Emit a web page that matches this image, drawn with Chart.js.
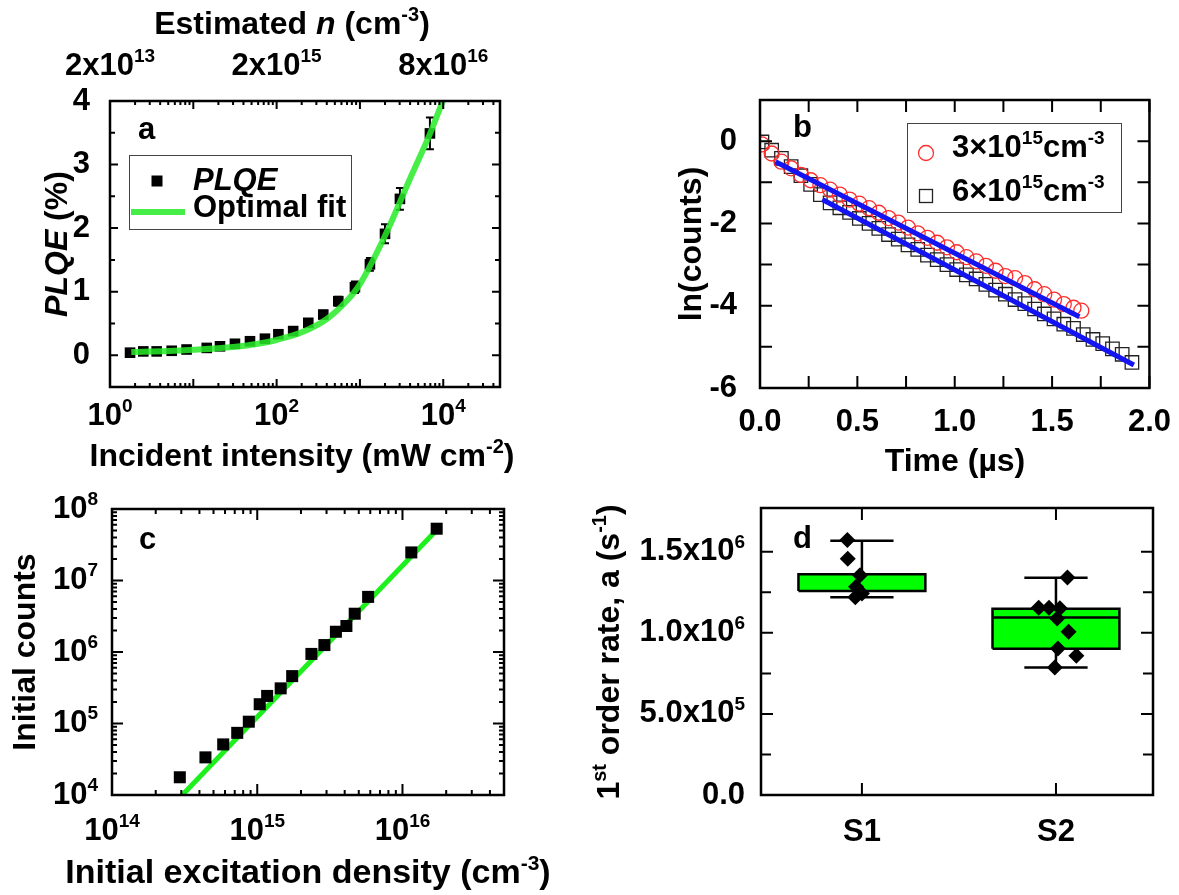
<!DOCTYPE html>
<html>
<head>
<meta charset="utf-8">
<script src="https://cdn.jsdelivr.net/npm/chart.js@4.4.0/dist/chart.umd.min.js"></script>
<style>
  body { margin: 0; background: #fff; width: 1179px; height: 895px; position: relative; overflow: hidden; }
  canvas { position: absolute; }
</style>
</head>
<body>
<canvas id="pa" width="580" height="480" style="left:0;top:0"></canvas>
<canvas id="pb" width="599" height="480" style="left:580px;top:0"></canvas>
<canvas id="pc" width="580" height="415" style="left:0;top:480px"></canvas>
<canvas id="pd" width="599" height="415" style="left:580px;top:480px"></canvas>
<script>
// ---- panel a : PLQE vs incident intensity ----
const aIntensity = [1.74, 2.51, 3.63, 5.5, 8.3, 14.5, 20.9, 31.6, 47.9, 72.4, 105, 158, 240, 363, 550, 871, 1318, 2000, 3020, 6920];
const aPlqe      = [0.04, 0.06, 0.06, 0.07, 0.09, 0.115, 0.14, 0.18, 0.22, 0.26, 0.33, 0.38, 0.51, 0.64, 0.85, 1.07, 1.43, 1.91, 2.46, 3.49];
const aPlqeErr   = [0.03, 0.03, 0.03, 0.03, 0.03, 0.03, 0.03, 0.04, 0.04, 0.04, 0.05, 0.05, 0.05, 0.06, 0.07, 0.09, 0.1, 0.15, 0.17, 0.25];
const aFitX = [1.8, 5, 10, 30, 60, 100, 200, 400, 700, 1000, 2000, 4000, 7000, 10000];
const aFitY = [0.05, 0.065, 0.085, 0.13, 0.18, 0.24, 0.36, 0.57, 0.86, 1.12, 1.88, 2.78, 3.5, 4.02];
const aXTicks = [1, 100, 10000];
const aXTickExp = ['0', '2', '4'];
const aTopTickLabels = [['2x10', '13'], ['2x10', '15'], ['8x10', '16']];
const aYTicks = [0, 1, 2, 3, 4];

// ---- panel b : ln(counts) decays ----
const bTime3 = [0.01, 0.06, 0.11, 0.16, 0.21, 0.26, 0.31, 0.36, 0.41, 0.46, 0.51, 0.56, 0.61, 0.66, 0.71, 0.76, 0.81, 0.86, 0.91, 0.96, 1.01, 1.06, 1.11, 1.16, 1.21, 1.26, 1.31, 1.36, 1.41, 1.46, 1.51, 1.56, 1.61, 1.65];
const bLn3   = [-0.08, -0.30, -0.50, -0.66, -0.82, -0.95, -1.07, -1.18, -1.30, -1.42, -1.52, -1.63, -1.74, -1.87, -1.98, -2.10, -2.24, -2.35, -2.47, -2.58, -2.70, -2.82, -2.92, -3.03, -3.15, -3.28, -3.33, -3.45, -3.60, -3.72, -3.85, -3.96, -4.05, -4.12];
const bTime6 = [0.01, 0.06, 0.11, 0.16, 0.21, 0.26, 0.31, 0.36, 0.41, 0.46, 0.51, 0.56, 0.61, 0.66, 0.71, 0.76, 0.81, 0.86, 0.91, 0.96, 1.01, 1.06, 1.11, 1.16, 1.21, 1.26, 1.31, 1.36, 1.41, 1.46, 1.51, 1.56, 1.61, 1.66, 1.71, 1.76, 1.81, 1.86, 1.91];
const bLn6   = [-0.02, -0.22, -0.42, -0.62, -0.84, -1.05, -1.30, -1.50, -1.62, -1.73, -1.88, -2.00, -2.12, -2.27, -2.38, -2.52, -2.63, -2.77, -2.88, -3.00, -3.12, -3.25, -3.35, -3.48, -3.62, -3.72, -3.85, -3.95, -4.08, -4.20, -4.32, -4.45, -4.55, -4.70, -4.82, -4.92, -5.05, -5.18, -5.38];
const bFit3T = [0.08, 1.64];
const bFit3Y = [-0.50, -4.27];
const bFit6T = [0.32, 1.92];
const bFit6Y = [-1.42, -5.44];
const bXTicks = [0, 0.5, 1, 1.5, 2];
const bYTicks = [0, -2, -4, -6];

// ---- panel c : initial counts vs excitation density ----
const cDensity = [2.93e14, 4.4e14, 5.83e14, 7.28e14, 8.75e14, 1.04e15, 1.17e15, 1.45e15, 1.74e15, 2.36e15, 2.9e15, 3.48e15, 4.11e15, 4.69e15, 5.8e15, 1.15e16, 1.72e16];
const cCounts  = [1.77e4, 3.36e4, 5.1e4, 7.4e4, 1.06e5, 1.86e5, 2.43e5, 3.1e5, 4.6e5, 9.4e5, 1.25e6, 1.92e6, 2.31e6, 3.43e6, 5.9e6, 2.47e7, 5.3e7];
const cFitX = [2.9e14, 1.8e16];
const cFitY = [9.0e3, 5.6e7];
const cXTicks = [1e14, 1e15, 1e16];
const cXTickExp = ['14', '15', '16'];
const cYTicks = [1e4, 1e5, 1e6, 1e7, 1e8];
const cYTickExp = ['4', '5', '6', '7', '8'];

// ---- panel d : first order rate box plots ----
const dCategories = ['S1', 'S2'];
const dQ1 = [1.258e6, 0.902e6];
const dMedian = [1.258e6, 1.095e6];
const dQ3 = [1.362e6, 1.149e6];
const dWhiskLow = [1.219e6, 0.787e6];
const dWhiskHigh = [1.568e6, 1.34e6];
const dS1X = [0.925, 0.927, 0.99, 0.97, 1.0, 0.966];
const dS1Y = [1.572e6, 1.457e6, 1.356e6, 1.284e6, 1.243e6, 1.219e6];
const dS2X = [2.059, 1.911, 1.964, 2.02, 2.006, 2.065, 2.01, 2.105, 1.994];
const dS2Y = [1.342e6, 1.155e6, 1.155e6, 1.151e6, 1.089e6, 1.007e6, 0.904e6, 0.859e6, 0.787e6];
const dYTicks = [0, 5e5, 1e6, 1.5e6];
const dYTickLabels = [['0.0', ''], ['5.0x10', '5'], ['1.0x10', '6'], ['1.5x10', '6']];

const FONT = '"Liberation Sans", Arial, Helvetica, sans-serif';
const FS = 31;
const tickFont = { family: FONT, size: FS, weight: 'bold' };
const GREEN = 'rgba(40,235,40,0.85)';
const BLUE = 'rgb(20,20,240)';

function fontStr(size, italic) {
  return (italic ? 'italic ' : '') + 'bold ' + size + 'px ' + FONT;
}

// segs: [[text, style]] ; style '' normal, 'i' italic, 's' superscript
function drawRich(ctx, segs, x, y, align, rot, size) {
  size = size || FS;
  ctx.save();
  ctx.translate(x, y);
  if (rot) ctx.rotate(rot);
  ctx.fillStyle = '#000';
  ctx.textBaseline = 'middle';
  ctx.textAlign = 'left';
  const parts = segs.map(([t, st]) => {
    const f = fontStr(st === 's' ? Math.round(size * 0.62) : size, st === 'i');
    ctx.font = f;
    return { t, f, w: ctx.measureText(t).width, dy: st === 's' ? -size * 0.3 : 0 };
  });
  const total = parts.reduce((s, p) => s + p.w, 0);
  let cx = align === 'center' ? -total / 2 : align === 'right' ? -total : 0;
  parts.forEach(p => { ctx.font = p.f; ctx.fillText(p.t, cx, p.dy); cx += p.w; });
  ctx.restore();
}

function logMajors(e0, e1) {
  const out = [];
  for (let e = e0; e <= e1; e++) out.push(Math.pow(10, e));
  return out;
}
function logMinors(e0, e1) {
  const out = [];
  for (let e = e0; e <= e1; e++) for (let m = 2; m <= 9; m++) out.push(m * Math.pow(10, e));
  return out;
}

// frame, inward ticks on all four sides, custom labels and titles
function decor(cfg) {
  return {
    id: 'decor',
    beforeDatasetsDraw(chart) { if (cfg.under) cfg.under(chart); },
    afterDraw(chart) {
      const { ctx, chartArea: a } = chart;
      ctx.save();
      ctx.strokeStyle = '#000';
      ctx.lineWidth = 2;
      cfg.ticks.forEach(t => {
        const s = chart.scales[t.axis];
        const horiz = s.isHorizontal();
        [[t.major, t.len[0]], [t.minor, t.len[1]]].forEach(([vals, len]) => {
          vals.forEach(v => {
            const p = s.getPixelForValue(v);
            ctx.beginPath();
            if (horiz) {
              if (p < a.left - 0.5 || p > a.right + 0.5) return;
              ctx.moveTo(p, a.bottom); ctx.lineTo(p, a.bottom - len);
              ctx.moveTo(p, a.top); ctx.lineTo(p, a.top + len);
            } else {
              if (p < a.top - 0.5 || p > a.bottom + 0.5) return;
              ctx.moveTo(a.left, p); ctx.lineTo(a.left + len, p);
              ctx.moveTo(a.right, p); ctx.lineTo(a.right - len, p);
            }
            ctx.stroke();
          });
        });
      });
      ctx.lineWidth = 2.5;
      ctx.strokeRect(a.left, a.top, a.right - a.left, a.bottom - a.top);
      ctx.restore();

      (cfg.labels || []).forEach(l => {
        const s = chart.scales[l.axis];
        l.vals.forEach((v, i) => {
          const p = s.getPixelForValue(v);
          if (l.side === 'bottom') drawRich(ctx, l.texts[i], p, a.bottom + l.off, 'center');
          else if (l.side === 'top') drawRich(ctx, l.texts[i], p, a.top - l.off, 'center');
          else drawRich(ctx, l.texts[i], a.left - l.off, p, 'right');
        });
      });
      (cfg.texts || []).forEach(t => drawRich(ctx, t.segs, t.x, t.y, t.align || 'center', t.rot, t.size));
      if (cfg.extra) cfg.extra(chart);
    }
  };
}

const baseOpts = {
  responsive: false,
  animation: false,
  events: [],
  plugins: { legend: { display: false }, tooltip: { enabled: false } }
};
const noAxisDeco = { grid: { display: false }, border: { display: false } };

// ================= panel a =================
new Chart(document.getElementById('pa'), {
  type: 'scatter',
  data: {
    datasets: [
      {
        type: 'line', label: 'Optimal fit',
        data: aFitX.map((x, i) => ({ x, y: aFitY[i] })),
        borderColor: GREEN, borderWidth: 6, pointRadius: 0,
        cubicInterpolationMode: 'monotone', order: 0
      },
      {
        label: 'PLQE',
        data: aIntensity.map((x, i) => ({ x, y: aPlqe[i] })),
        pointStyle: 'rect', pointRadius: 7.5,
        backgroundColor: '#000', borderColor: '#000', borderWidth: 0, order: 1
      }
    ]
  },
  options: {
    ...baseOpts,
    layout: { padding: { top: 101, right: 80, left: 0, bottom: 0 } },
    scales: {
      x: {
        type: 'logarithmic', min: 1, max: 48000, ...noAxisDeco,
        ticks: { display: false },
        afterFit: s => { s.height = 93; }
      },
      y: {
        min: -0.5, max: 4, ...noAxisDeco,
        afterBuildTicks: s => { s.ticks = aYTicks.map(v => ({ value: v })); },
        ticks: { font: tickFont, color: '#000', padding: 12, callback: v => String(v) },
        afterFit: s => { s.width = 110; }
      }
    }
  },
  plugins: [decor({
    ticks: [
      { axis: 'x', major: logMajors(0, 4), minor: logMinors(0, 4), len: [8, 4] },
      { axis: 'y', major: aYTicks, minor: [-0.5, 0.5, 1.5, 2.5, 3.5], len: [8, 5] }
    ],
    labels: [
      { axis: 'x', side: 'bottom', off: 29, vals: aXTicks, texts: aXTickExp.map(e => [['10', ''], [e, 's']]) },
      { axis: 'x', side: 'top', off: 35, vals: aXTicks, texts: aTopTickLabels.map(([b, e]) => [[b, ''], [e, 's']]) }
    ],
    texts: [
      { segs: [['Estimated ', ''], ['n', 'i'], [' (cm', ''], ['-3', 's'], [')', '']], x: 292, y: 25, size: 32 },
      { segs: [['Incident intensity (mW cm', ''], ['-2', 's'], [')', '']], x: 302, y: 457, size: 32 },
      { segs: [['PLQE', 'i'], [' (%)', '']], x: 58, y: 244, rot: -Math.PI / 2, size: 32 },
      { segs: [['a', '']], x: 138, y: 130, align: 'left' }
    ],
    under(chart) {
      const { ctx } = chart;
      const xs = chart.scales.x, ys = chart.scales.y;
      ctx.save();
      ctx.strokeStyle = '#000';
      ctx.lineWidth = 2;
      aIntensity.forEach((v, i) => {
        const px = xs.getPixelForValue(v);
        const y1 = ys.getPixelForValue(aPlqe[i] - aPlqeErr[i]);
        const y2 = ys.getPixelForValue(aPlqe[i] + aPlqeErr[i]);
        ctx.beginPath();
        ctx.moveTo(px, y1); ctx.lineTo(px, y2);
        ctx.moveTo(px - 4, y1); ctx.lineTo(px + 4, y1);
        ctx.moveTo(px - 4, y2); ctx.lineTo(px + 4, y2);
        ctx.stroke();
      });
      ctx.restore();
    },
    extra(chart) {
      const { ctx } = chart;
      ctx.save();
      ctx.strokeStyle = '#444';
      ctx.lineWidth = 1;
      ctx.strokeRect(129.5, 155.5, 222, 74);
      ctx.fillStyle = '#000';
      ctx.fillRect(151.5, 175.5, 11, 11);
      ctx.strokeStyle = GREEN;
      ctx.lineWidth = 6;
      ctx.beginPath(); ctx.moveTo(131, 212); ctx.lineTo(185, 212); ctx.stroke();
      ctx.restore();
      drawRich(ctx, [['PLQE', 'i']], 193, 181, 'left');
      drawRich(ctx, [['Optimal fit', '']], 193, 208, 'left');
    }
  })]
});

// ================= panel b =================
new Chart(document.getElementById('pb'), {
  type: 'scatter',
  data: {
    datasets: [
      {
        type: 'line', data: bFit3T.map((x, i) => ({ x, y: bFit3Y[i] })),
        borderColor: BLUE, borderWidth: 5, pointRadius: 0, order: 0
      },
      {
        type: 'line', data: bFit6T.map((x, i) => ({ x, y: bFit6Y[i] })),
        borderColor: BLUE, borderWidth: 5, pointRadius: 0, order: 0
      },
      {
        label: '3e15', data: bTime3.map((x, i) => ({ x, y: bLn3[i] })),
        pointStyle: 'circle', pointRadius: 7.5,
        borderColor: 'rgb(255,45,45)', borderWidth: 1.3, backgroundColor: 'rgba(0,0,0,0)', order: 1
      },
      {
        label: '6e15', data: bTime6.map((x, i) => ({ x, y: bLn6[i] })),
        pointStyle: 'rect', pointRadius: 9.5,
        borderColor: '#222', borderWidth: 1.3, backgroundColor: 'rgba(0,0,0,0)', order: 2
      }
    ]
  },
  options: {
    ...baseOpts,
    layout: { padding: { top: 100, right: 29, left: 0, bottom: 0 } },
    scales: {
      x: {
        min: 0, max: 2, ...noAxisDeco,
        afterBuildTicks: s => { s.ticks = bXTicks.map(v => ({ value: v })); },
        ticks: { font: tickFont, color: '#000', padding: 8, maxRotation: 0, callback: v => v.toFixed(1) },
        afterFit: s => { s.height = 92; }
      },
      y: {
        min: -6, max: 1, ...noAxisDeco,
        afterBuildTicks: s => { s.ticks = bYTicks.map(v => ({ value: v })); },
        ticks: { font: tickFont, color: '#000', padding: 15, callback: v => String(v) },
        afterFit: s => { s.width = 180; }
      }
    }
  },
  plugins: [decor({
    ticks: [
      { axis: 'x', major: bXTicks, minor: [0.25, 0.75, 1.25, 1.75], len: [12, 12] },
      { axis: 'y', major: bYTicks, minor: [-1, -3, -5], len: [12, 12] }
    ],
    texts: [
      { segs: [['Time (\u00b5s)', '']], x: 375, y: 462, size: 32 },
      { segs: [['ln(counts)', '']], x: 112, y: 244, rot: -Math.PI / 2, size: 32 },
      { segs: [['b', '']], x: 213, y: 128, align: 'left' }
    ],
    extra(chart) {
      const { ctx } = chart;
      ctx.save();
      ctx.strokeStyle = '#444';
      ctx.lineWidth = 1;
      ctx.strokeRect(327.5, 123.5, 214, 89);
      ctx.strokeStyle = 'rgb(255,45,45)';
      ctx.lineWidth = 1.3;
      ctx.beginPath(); ctx.arc(346, 153, 7.5, 0, Math.PI * 2); ctx.stroke();
      ctx.strokeStyle = '#222';
      ctx.strokeRect(339.5, 189.5, 13, 13);
      ctx.restore();
      drawRich(ctx, [['3\u00d710', ''], ['15', 's'], ['cm', ''], ['-3', 's']], 372, 148, 'left');
      drawRich(ctx, [['6\u00d710', ''], ['15', 's'], ['cm', ''], ['-3', 's']], 372, 192, 'left');
    }
  })]
});

// ================= panel c =================
new Chart(document.getElementById('pc'), {
  type: 'scatter',
  data: {
    datasets: [
      {
        data: cDensity.map((x, i) => ({ x, y: cCounts[i] })),
        pointStyle: 'rect', pointRadius: 8.5,
        backgroundColor: '#000', borderColor: '#000', borderWidth: 0, order: 0
      },
      {
        type: 'line', data: cFitX.map((x, i) => ({ x, y: cFitY[i] })),
        borderColor: 'rgb(30,240,30)', borderWidth: 5, pointRadius: 0, order: 1
      }
    ]
  },
  options: {
    ...baseOpts,
    layout: { padding: { top: 29, right: 76, left: 0, bottom: 0 } },
    scales: {
      x: {
        type: 'logarithmic', min: 1e14, max: 5e16, ...noAxisDeco,
        ticks: { display: false },
        afterFit: s => { s.height = 100; }
      },
      y: {
        type: 'logarithmic', min: 1e4, max: 1e8, ...noAxisDeco,
        ticks: { display: false },
        afterFit: s => { s.width = 112; }
      }
    }
  },
  plugins: [decor({
    ticks: [
      { axis: 'x', major: logMajors(14, 16), minor: logMinors(14, 16), len: [11, 5] },
      { axis: 'y', major: logMajors(4, 8), minor: logMinors(4, 7), len: [11, 5] }
    ],
    labels: [
      { axis: 'x', side: 'bottom', off: 36, vals: cXTicks, texts: cXTickExp.map(e => [['10', ''], [e, 's']]) },
      { axis: 'y', side: 'left', off: 14, vals: cYTicks, texts: cYTickExp.map(e => [['10', ''], [e, 's']]) }
    ],
    texts: [
      { segs: [['Initial excitation density (cm', ''], ['-3', 's'], [')', '']], x: 308, y: 394, size: 34 },
      { segs: [['Initial counts', '']], x: 26, y: 172, rot: -Math.PI / 2, size: 32 },
      { segs: [['c', '']], x: 139, y: 60, align: 'left' }
    ]
  })]
});

// ================= panel d =================
const BOX_HW = 0.327, CAP_HW = 0.163;
const dSets = [];
dCategories.forEach((c, i) => {
  const cx = i + 1, l = cx - BOX_HW, r = cx + BOX_HW;
  const gap = { x: cx, y: null };
  dSets.push(
    { type: 'line', data: [{ x: l, y: dQ1[i] }, { x: r, y: dQ1[i] }],
      borderColor: 'rgba(0,0,0,0)', borderWidth: 1, pointRadius: 0, order: 5 },
    { type: 'line', data: [{ x: l, y: dQ3[i] }, { x: r, y: dQ3[i] }],
      borderColor: 'rgba(0,0,0,0)', borderWidth: 1, pointRadius: 0,
      fill: '-1', backgroundColor: '#00ff00', order: 4 },
    { type: 'line', order: 2, borderColor: '#000', borderWidth: 2.5, pointRadius: 0, spanGaps: false,
      data: [
        { x: l, y: dQ1[i] }, { x: r, y: dQ1[i] }, { x: r, y: dQ3[i] }, { x: l, y: dQ3[i] }, { x: l, y: dQ1[i] }, gap,
        { x: l, y: dMedian[i] }, { x: r, y: dMedian[i] }, gap,
        { x: cx, y: dQ3[i] }, { x: cx, y: dWhiskHigh[i] }, gap,
        { x: cx - CAP_HW, y: dWhiskHigh[i] }, { x: cx + CAP_HW, y: dWhiskHigh[i] }, gap,
        { x: cx, y: dQ1[i] }, { x: cx, y: dWhiskLow[i] }, gap,
        { x: cx - CAP_HW, y: dWhiskLow[i] }, { x: cx + CAP_HW, y: dWhiskLow[i] }
      ] }
  );
});
dSets.push(
  { label: 'S1', data: dS1X.map((x, i) => ({ x, y: dS1Y[i] })), pointStyle: 'rectRot', pointRadius: 8,
    backgroundColor: '#000', borderColor: '#000', borderWidth: 0, order: 0 },
  { label: 'S2', data: dS2X.map((x, i) => ({ x, y: dS2Y[i] })), pointStyle: 'rectRot', pointRadius: 8,
    backgroundColor: '#000', borderColor: '#000', borderWidth: 0, order: 0 }
);

new Chart(document.getElementById('pd'), {
  type: 'scatter',
  data: { datasets: dSets },
  options: {
    ...baseOpts,
    layout: { padding: { top: 28, right: 26, left: 0, bottom: 0 } },
    scales: {
      x: {
        min: 0.48, max: 2.5, ...noAxisDeco,
        afterBuildTicks: s => { s.ticks = dCategories.map((c, i) => ({ value: i + 1 })); },
        ticks: { font: tickFont, color: '#000', padding: 11, maxRotation: 0, callback: (v, i) => dCategories[i] },
        afterFit: s => { s.height = 100; }
      },
      y: {
        min: 0, max: 1.77e6, ...noAxisDeco,
        ticks: { display: false },
        afterFit: s => { s.width = 181; }
      }
    }
  },
  plugins: [decor({
    ticks: [
      { axis: 'x', major: [1, 2], minor: [], len: [12, 12] },
      { axis: 'y', major: dYTicks, minor: [2.5e5, 7.5e5, 1.25e6], len: [12, 10] }
    ],
    labels: [
      { axis: 'y', side: 'left', off: 16, vals: dYTicks, texts: dYTickLabels.map(([b, e]) => e ? [[b, ''], [e, 's']] : [[b, '']]) }
    ],
    texts: [
      { segs: [['1', ''], ['st', 's'], [' order rate, a (s', ''], ['-1', 's'], [')', '']], x: 30, y: 172, rot: -Math.PI / 2, size: 32 },
      { segs: [['d', '']], x: 213, y: 59, align: 'left' }
    ]
  })]
});
</script>
</body>
</html>
